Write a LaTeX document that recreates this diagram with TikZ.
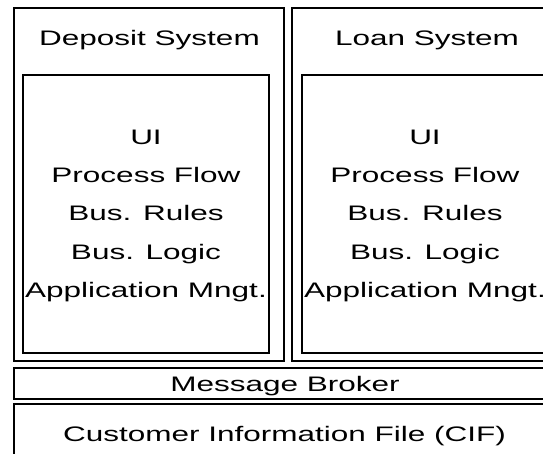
\documentclass[tikz,border=0pt]{standalone}
\usepackage{fontspec}
\newfontfamily\widesans[FakeStretch=1.5]{Liberation Sans}
\begin{document}
\begin{tikzpicture}[x=1pt,y=-1pt,
  frame/.style={draw=black, line width=1.6pt, inner sep=0pt, outer sep=0pt, rectangle},
  caption/.style={font=\widesans\fontsize{21}{25}\selectfont, inner sep=0pt, anchor=base, text=black}]
  \useasboundingbox (0,0) rectangle (543,454);
  \clip (0,0) rectangle (543,454);
  \fill[white] (0,0) rectangle (543,454);

  % Deposit system
  \node[frame, minimum width=270pt, minimum height=353pt] (depOuter) at (149,184.5) {};
  \node[frame, minimum width=246pt, minimum height=278pt] (depInner) at (146,214) {};
  \node[caption] (depTitle) at (149.5,45.7) {Deposit System};
  \node[caption] (depUI)   at (146,145) {UI};
  \node[caption] (depPF)   at (146,183) {Process Flow};
  \node[caption] (depBR)   at (146,221) {Bus. Rules};
  \node[caption] (depBL)   at (146,259) {Bus. Logic};
  \node[caption] (depAM)   at (146,297) {Application Mngt.};

  % Loan system
  \node[frame, minimum width=266pt, minimum height=353pt] (loanOuter) at (425,184.5) {};
  \node[frame, minimum width=246pt, minimum height=278pt] (loanInner) at (425,214) {};
  \node[caption] (loanTitle) at (427,45.7) {Loan System};
  \node[caption] (loanUI)   at (425,145) {UI};
  \node[caption] (loanPF)   at (425,183) {Process Flow};
  \node[caption] (loanBR)   at (425,221) {Bus. Rules};
  \node[caption] (loanBL)   at (425,259) {Bus. Logic};
  \node[caption] (loanAM)   at (425,297) {Application Mngt.};

  % Shared layers
  \node[frame, minimum width=544pt, minimum height=31pt] (broker) at (286,383.5) {};
  \node[caption] (brokerText) at (285,391.5) {Message Broker};
  \node[frame, minimum width=544pt, minimum height=56pt] (cif) at (286,432) {};
  \node[caption] (cifText) at (284.5,441) {Customer Information File (CIF)};
\end{tikzpicture}
\end{document}
